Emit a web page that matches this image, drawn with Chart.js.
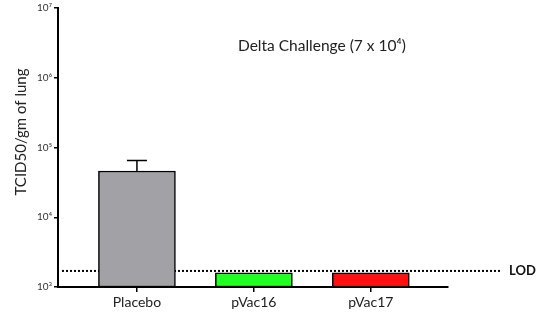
<!DOCTYPE html>
<html>
<head>
<meta charset="utf-8">
<script src="https://cdn.jsdelivr.net/npm/chart.js@4"></script>
<style>
  html, body { margin: 0; padding: 0; background: #fff; }
  #wrap { width: 550px; height: 324px; }
</style>
</head>
<body>
<div id="wrap"><canvas id="chart" width="550" height="324"></canvas></div>
<script>
const groups = ['Placebo', 'pVac16', 'pVac17'];
const titer = [46000, 1600, 1600];
const errTop = [65000, null, null];
const LOD = 1700;
const yTicks = [1e3, 1e4, 1e5, 1e6, 1e7];
const tickLabels = ['10³', '10⁴', '10⁵', '10⁶', '10⁷'];
const barColors = ['#a2a2a6', '#22ff22', '#ff1010'];

const FONT = 'Lato, "Open Sans", sans-serif';

const extras = {
  id: 'extras',
  beforeDatasetsDraw(chart) {
    // LOD line sits under the bars
    const { ctx, scales: { y }, chartArea } = chart;
    const ly = y.getPixelForValue(LOD);
    ctx.save();
    ctx.strokeStyle = '#000';
    ctx.setLineDash([2, 2]);
    ctx.lineWidth = 2;
    ctx.beginPath();
    ctx.moveTo(chartArea.left + 4, ly);
    ctx.lineTo(chartArea.right + 54, ly);
    ctx.stroke();
    ctx.setLineDash([]);
    ctx.fillStyle = '#111';
    ctx.font = 'bold 13px ' + FONT;
    ctx.textBaseline = 'middle';
    ctx.fillText('LOD', chartArea.right + 61, ly);
    ctx.restore();
  },
  afterDatasetsDraw(chart) {
    const { ctx, scales: { x, y } } = chart;
    ctx.save();
    // error bars
    ctx.strokeStyle = '#000';
    ctx.lineWidth = 1.5;
    errTop.forEach((e, i) => {
      if (e == null) return;
      const px = x.getPixelForValue(i + 1);
      const top = y.getPixelForValue(e);
      const bot = y.getPixelForValue(titer[i]);
      ctx.beginPath();
      ctx.moveTo(px, bot);
      ctx.lineTo(px, top);
      ctx.moveTo(px - 10, top);
      ctx.lineTo(px + 10, top);
      ctx.stroke();
    });
    // title inside plot
    ctx.font = '15.5px ' + FONT;
    ctx.fillStyle = '#222';
    ctx.textAlign = 'left';
    ctx.textBaseline = 'middle';
    ctx.fillText('Delta Challenge (7 x 10⁴)', 238, 46);
    // y axis title
    ctx.translate(21, 132);
    ctx.rotate(-Math.PI / 2);
    ctx.textAlign = 'center';
    ctx.font = '15px ' + FONT;
    ctx.fillText('TCID50/gm of lung', 0, 0);
    ctx.restore();
  }
};

new Chart(document.getElementById('chart'), {
  type: 'bar',
  data: {
    datasets: [{
      data: titer.map((v, i) => ({ x: i + 1, y: [1000, v] })),
      backgroundColor: barColors,
      borderColor: '#000',
      borderWidth: 1.5,
      borderSkipped: false,
      barThickness: 77
    }]
  },
  options: {
    responsive: false,
    animation: false,
    layout: { padding: { top: 4, right: 102, left: 0, bottom: 0 } },
    plugins: { legend: { display: false }, tooltip: { enabled: false } },
    scales: {
      x: {
        type: 'linear',
        offset: false,
        min: 0.325,
        max: 3.66,
        afterBuildTicks: s => { s.ticks = groups.map((g, i) => ({ value: i + 1 })); },
        afterFit: s => { s.height = 37; },
        ticks: {
          callback: (v) => groups[v - 1] || '',
          color: '#222',
          font: { family: FONT, size: 14 },
          padding: 2,
          maxRotation: 0
        },
        grid: { offset: false, drawOnChartArea: false, color: '#000', tickLength: 5, lineWidth: 1.5 },
        border: { color: '#000', width: 2 }
      },
      y: {
        type: 'logarithmic',
        min: 1e3,
        max: 1e7,
        afterBuildTicks: s => { s.ticks = yTicks.map(v => ({ value: v })); },
        afterFit: s => { s.width = 58; },
        ticks: {
          callback: (v) => tickLabels[yTicks.indexOf(v)] || '',
          color: '#333',
          font: { family: FONT, size: 10 },
          padding: 2
        },
        grid: { drawOnChartArea: false, color: '#000', tickLength: 4, lineWidth: 1.5 },
        border: { color: '#000', width: 2 }
      }
    }
  },
  plugins: [extras]
});
</script>
</body>
</html>
